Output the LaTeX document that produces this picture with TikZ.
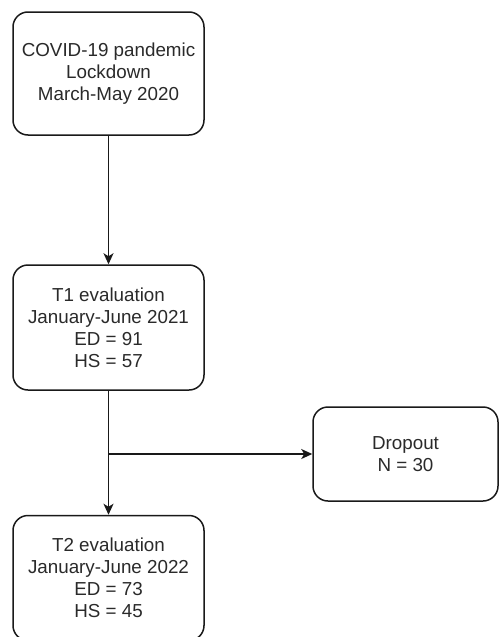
\documentclass[tikz,border=0pt]{standalone}
\usepackage{fontspec}
\setmainfont{Liberation Sans}
\usetikzlibrary{arrows.meta}
\definecolor{txt}{HTML}{2A2A2A}
\tikzset{
  box/.style={draw=black!90, line width=1.5pt, rounded corners=15pt, fill=white,
    align=center, text=txt, inner sep=0pt,
    font=\fontsize{18.8}{22}\selectfont},
  link/.style={draw=black!90, line width=1.5pt, -{Stealth[length=11pt,width=10pt,inset=3pt]}}
}
\begin{document}
\begin{tikzpicture}[x=1pt,y=-1pt]
\clip (0,0) rectangle (500,637);
\fill[white] (0,0) rectangle (500,637);
\node[box, minimum width=191pt, minimum height=123pt] (b1) at (108.5,73.5)
  {COVID-19 pandemic\\Lockdown\\March-May 2020};
\node[box, minimum width=191pt, minimum height=125pt] (b2) at (108.5,327.5)
  {T1 evaluation\\January-June 2021\\ED = 91\\HS = 57};
\node[box, minimum width=185pt, minimum height=94pt] (d) at (405.5,454)
  {Dropout\\N = 30};
\node[box, minimum width=191pt, minimum height=125pt] (b3) at (108.5,578)
  {T2 evaluation\\January-June 2022\\ED = 73\\HS = 45};
\coordinate (split) at (108.5,454);
\draw[link] (b1) -- (b2);
\draw[link] (b2) -- (b3);
\draw[link] (split) -- (d);
\end{tikzpicture}
\end{document}
